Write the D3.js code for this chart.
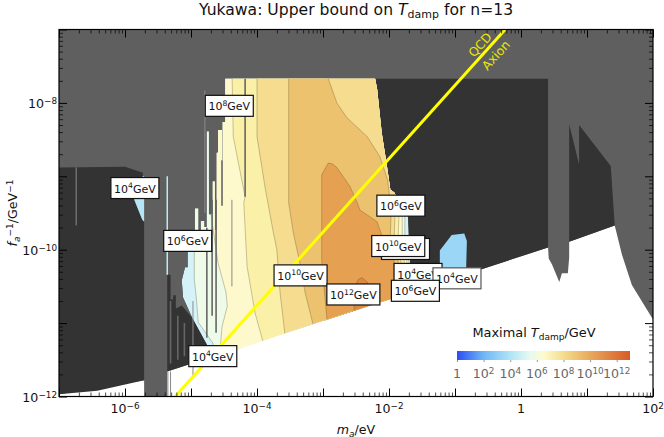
<!DOCTYPE html>
<html>
<head>
<meta charset="utf-8">
<script src="https://cdn.jsdelivr.net/npm/d3@7"></script>
<style>
  html, body { margin: 0; padding: 0; background: #fff; }
  svg { display: block; font-family: "DejaVu Sans", sans-serif; }
</style>
</head>
<body>
<div id="chart"></div>
<script>
// all region outlines are [log10 m_a, log10 1/f_a]
const massDecades = [-7, -6, -5, -4, -3, -2, -1, 0, 1, 2];
const massLabels = [-6, -4, -2, 0, 2];
const couplingDecades = [-12, -11, -10, -9, -8, -7];
const couplingLabels = [-12, -10, -8];
const minorMultiples = [2, 3, 4, 5, 6, 7, 8, 9];

const excludedGray = [[-7,-7],[2,-7],[2,-10.95],[1.68,-10.48],[1.53,-10.07],[1.42,-9.67],[0.73,-9.89],[0.73,-10.11],
  [0.71,-10.32],[0.62,-10.32],[0.58,-10.44],[0.47,-10.2],[0.42,-10.12],[0.41,-9.97],[-5.36,-11.66],[-5.36,-12],[-5.71,-12],[-5.71,-11.78],[-7,-11.97]];
const darkLeft = [[-7,-8.88],[-6,-8.87],[-5.73,-8.95],[-5.73,-9],[-5.86,-9.32],[-5.74,-9.59],[-5.71,-9.62],[-5.71,-11.78],[-6.42,-11.92],[-7,-11.97]];
const blueSliver = [[-5.73,-9],[-5.86,-9.32],[-5.74,-9.59],[-5.71,-9.62],[-5.71,-9]];
const darkTriangle = [[-5.36,-10.34],[-5.31,-10.34],[-5.31,-10.68],[-5.27,-10.68],[-5.27,-10.62],[-5.23,-10.62],[-5.23,-10.8],[-5.14,-10.76],[-4.98,-10.93],[-4.76,-11.29],[-4.68,-11.46],[-5.36,-11.66]];
const darkCenter = [[-3,-7.67],[0.41,-7.67],[0.41,-9.97],[-3,-10.97]];
const darkRight = [[0.73,-8.29],[0.88,-8.84],[0.88,-8.3],[1.36,-8.86],[1.42,-9.67],[0.73,-9.89]];
const bluePatch = [[-1.23,-10.01],[-1.05,-9.8],[-0.86,-9.78],[-0.82,-9.88],[-0.83,-10.22],[-0.83,-10.3],[-1.23,-10.45]];

const allowedRegion = [[-4.68,-11.46],[-4.76,-11.29],[-4.98,-10.93],[-5.12,-10.65],[-5.14,-10.42],[-5.09,-10.24],[-5.05,-10.24],[-5.05,-9.93],
  [-4.94,-9.93],[-4.94,-9.44],[-4.89,-9.44],[-4.89,-9.86],[-4.85,-9.86],[-4.85,-9.61],[-4.8,-9.61],[-4.8,-9.69],[-4.76,-9.69],[-4.76,-8.39],
  [-4.73,-8.39],[-4.73,-9.52],[-4.67,-9.52],[-4.67,-9.07],[-4.64,-9.07],[-4.64,-9.73],[-4.61,-9.73],[-4.61,-8.68],[-4.59,-8.68],[-4.59,-8.37],
  [-4.53,-8.37],[-4.53,-8.78],[-4.52,-8.78],[-4.52,-8.26],[-4.48,-8.26],[-4.48,-7.67],[-2.21,-7.67],[-2.18,-7.81],[-2.11,-8.41],[-2.03,-8.87],
  [-1.98,-9.18],[-1.92,-9.22],[-1.71,-9.55],[-1.7,-9.8],[-1.68,-10.16],[-1.68,-10.59],[-2.14,-10.72],[-2.53,-10.83],[-2.94,-10.95],[-3.15,-11.01],[-4.3,-11.36]];

// filled contour levels, painted lowest first
const levelColors = ["#edfbe8", "#fdf9cd", "#fbf0a8", "#f5dc8e", "#edc26e", "#e5a052", "#dc8a40"];
const levelOutlines = [
  [[-4.95,-7.5],[-4.95,-10.41],[-4.92,-10.65],[-4.89,-10.99],[-4.67,-11.27],[-4.6,-11.7],[-1.7,-11.7],[-1.7,-10.16],[-1.76,-9.8],[-1.76,-9.55],[-1.78,-9.5],[-1.53,-9.2],[-1.53,-7.5]],
  [[-4.7,-7.5],[-4.7,-9.5],[-4.62,-10],[-4.59,-10.18],[-4.47,-10.58],[-4.45,-10.77],[-4.53,-11.05],[-4.55,-11.27],[-4.55,-11.7],[-1.73,-11.7],[-1.73,-10.16],[-1.8,-9.8],[-1.8,-9.55],[-1.83,-9.5],[-1.53,-9],[-1.53,-7.5]],
  [[-4.38,-7.5],[-4.36,-8.46],[-4.18,-9.28],[-4.2,-9.36],[-4.15,-10.23],[-4.03,-10.86],[-3.91,-11.25],[-3.88,-11.7],[-1.77,-11.7],[-1.77,-10.16],[-1.86,-9.8],[-1.85,-9.55],[-1.86,-9.43],[-1.53,-8.9],[-1.53,-7.5]],
  [[-4,-7.5],[-4,-8.46],[-3.88,-9.14],[-3.76,-9.73],[-3.7,-10],[-3.65,-10.59],[-3.58,-11.13],[-3.55,-11.7],[-1.82,-11.7],[-1.82,-10.16],[-1.92,-9.8],[-1.91,-9.55],[-1.92,-9.37],[-1.53,-8.78],[-1.53,-7.5]],
  [[-3.52,-7.5],[-3.52,-9.36],[-3.45,-9.77],[-3.35,-10.18],[-3.27,-10.59],[-3.15,-11.02],[-3.12,-11.7],[-1.86,-11.7],[-1.86,-10.16],[-1.98,-9.8],[-1.97,-9.55],[-1.98,-9.36],[-2.02,-9.05],[-2.14,-8.73],[-2.33,-8.46],[-2.64,-8.2],[-2.79,-8],[-2.92,-7.67],[-2.97,-7.5]],
  [[-2.92,-8.82],[-3.02,-8.98],[-3.02,-9.73],[-3.02,-10.14],[-2.94,-10.95],[-2.94,-11.7],[-1.92,-11.7],[-1.92,-10.48],[-1.92,-10.16],[-2.02,-9.93],[-2.11,-9.8],[-2.18,-9.62],[-2.29,-9.55],[-2.44,-9.46],[-2.48,-9.36],[-2.59,-9.14],[-2.79,-8.88],[-2.86,-8.83]],
  [[-2.53,-10.54],[-2.47,-10.41],[-2.41,-10.38],[-2.33,-10.44],[-2.27,-10.61],[-2.27,-10.95],[-2.53,-10.95]],
];

// vertical slivers: [log m, log top, log bottom]
const graySlivers = [[-4.18,-7.67,-9.28],[-4.62,-9.32,-11.13],[-4.68,-9.32,-10.9],[-4.76,-9.7,-11.2],[-4.53,-8.78,-9.4],[-5.31,-10.7,-11.55],[-5.2,-10.9,-11.5],[-5.1,-11,-11.45]];
const faintSlivers = [[-6.74,-8.88,-9.67],[-4.38,-9.32,-10.5],[-4.97,-10.7,-11.75],[-5.35,-11.66,-12],[-5.31,-11.66,-12],[-4.79,-7.83,-9.5]];
const cyanSlivers = [[-5.36,-9,-10.34]];

const qcdMass = [-5.24, -0.24];
const qcdOffset = -6.76;

// box labels in draw order: [log m, log coupling, exponent]
const tempLabels = [
  [-4.42,-8.04,8],[-5.85,-9.16,4],[-5.05,-9.88,6],[-3.34,-10.35,10],[-2.54,-10.61,12],[-4.67,-11.45,4],
  [-1.82,-9.4,6],[-1.75,-9.99,null],[-1.86,-9.95,10],[-1.56,-10.33,4],[-0.97,-10.39,4],[-1.6,-10.56,6],
];

const barTicks = [0, 2, 4, 6, 8, 10, 12];
const barStops = [0, 2, 4, 5.5, 6.5, 8, 10, 13];
const barColors = ["#2a4cf5", "#6fb6f5", "#aee5f7", "#e8f9f0", "#fdfbd0", "#f5dd8c", "#e8a95c", "#d85a28"];

const width = 664, height = 437;
const plot = { left: 59, right: 653, top: 29.5, bottom: 396.5 };

const x = d3.scaleLog().domain([1e-7, 1e2]).range([plot.left, plot.right]);
const y = d3.scaleLog().domain([1e-12, 1e-7]).range([plot.bottom, plot.top]);
const px = lm => x(Math.pow(10, lm));
const py = lg => y(Math.pow(10, lg));
const outline = d3.line().x(d => px(d[0])).y(d => py(d[1]));
const closed = pts => outline(pts) + "Z";

const svg = d3.select("#chart").append("svg").attr("width", width).attr("height", height);
const defs = svg.append("defs");
defs.append("clipPath").attr("id", "plot-clip").append("rect")
  .attr("x", plot.left).attr("y", plot.top)
  .attr("width", plot.right - plot.left).attr("height", plot.bottom - plot.top);
defs.append("clipPath").attr("id", "allowed-clip").append("path").attr("d", closed(allowedRegion));

const g = svg.append("g").attr("clip-path", "url(#plot-clip)");

const GRAY = "#5f5f5f", DARK = "#333333";
const fillRegion = (pts, color) => g.append("path").attr("d", closed(pts)).attr("fill", color);

fillRegion(excludedGray, GRAY);
fillRegion(darkLeft, DARK);
fillRegion(blueSliver, "#b4e6f8");
fillRegion(darkTriangle, DARK);
fillRegion(darkCenter, DARK);
fillRegion(darkRight, DARK);
fillRegion(bluePatch, "#9cd6f6");

const allowed = g.append("g").attr("clip-path", "url(#allowed-clip)");
allowed.append("path").attr("d", closed(allowedRegion)).attr("fill", "#d4f2f8");
allowed.selectAll("path.level")
  .data(levelOutlines)
  .join("path")
  .attr("class", "level")
  .attr("d", closed)
  .attr("fill", (d, i) => levelColors[i])
  .attr("stroke", "#5a4a2a")
  .attr("stroke-opacity", 0.45)
  .attr("stroke-width", 0.7);

const drawSlivers = (rows, color, w) => {
  g.selectAll(null).data(rows).join("line")
    .attr("x1", d => px(d[0])).attr("x2", d => px(d[0]))
    .attr("y1", d => py(d[1])).attr("y2", d => py(d[2]))
    .attr("stroke", color).attr("stroke-width", w);
};
drawSlivers(graySlivers, "#666666", 1.6);
drawSlivers(faintSlivers, "#8a8a8a", 1);
drawSlivers(cyanSlivers, "#bfeaf5", 1.5);

// QCD axion band
g.append("line")
  .attr("x1", px(qcdMass[0])).attr("y1", py(qcdMass[0] + qcdOffset))
  .attr("x2", px(qcdMass[1])).attr("y2", py(qcdMass[1] + qcdOffset))
  .attr("stroke", "#ffff00").attr("stroke-width", 3);

const qcdAngle = -Math.atan2(py(-8) - py(-7), px(1) - px(0)) * 180 / Math.PI;
[["QCD", -0.62, -7.21], ["Axion", -0.38, -7.35]].forEach(([label, lm, lg]) => {
  svg.append("text")
    .attr("transform", `translate(${px(lm)},${py(lg)}) rotate(${qcdAngle})`)
    .attr("text-anchor", "middle").attr("dy", "0.35em")
    .attr("font-size", 12.3).attr("fill", "#e8e800")
    .text(label);
});

// Contour labels
const labels = svg.append("g");
tempLabels.forEach((d, i) => {
  const exp = d[2];
  const w = exp >= 10 ? 53 : 48;
  labels.append("rect")
    .attr("x", px(d[0]) - w / 2).attr("y", py(d[1]) - 10.5)
    .attr("width", w).attr("height", 21)
    .attr("fill", "#fff").attr("stroke", i === 10 ? "#555" : "#111").attr("stroke-width", 1.2);
  if (exp === null) return;   // sits behind its neighbour, text is covered
  const t = labels.append("text")
    .attr("x", px(d[0])).attr("y", py(d[1]) + 4.6)
    .attr("text-anchor", "middle").attr("font-size", 11).attr("fill", "#111");
  t.append("tspan").text("10");
  t.append("tspan").attr("dy", -4.5).attr("font-size", 7.7).text(exp);
  t.append("tspan").attr("dy", 4.5).text("GeV");
});

// Axes: ticks point inwards on all four sides
const minorOf = decades => decades.slice(0, -1).flatMap(e => minorMultiples.map(m => m * Math.pow(10, e)));
const massMajor = massDecades.map(e => Math.pow(10, e));
const couplingMajor = couplingDecades.map(e => Math.pow(10, e));

function powerLabel(sel, exponent) {
  sel.text(null);
  if (exponent === 0) { sel.text("1"); return; }
  sel.append("tspan").text("10");
  sel.append("tspan").attr("dy", "-0.42em").attr("font-size", "70%").text((exponent < 0 ? "\u2212" : "") + Math.abs(exponent));
}

function drawAxis(gen, tx, ty, values, size) {
  const a = svg.append("g").attr("transform", `translate(${tx},${ty})`)
    .call(gen.tickValues(values).tickSize(-size).tickFormat(""));
  a.select(".domain").remove();
  a.selectAll("line").attr("stroke", "#000").attr("stroke-width", size > 5 ? 1 : 0.7);
  return a;
}

const frameW = plot.right - plot.left, frameH = plot.bottom - plot.top;
[[d3.axisBottom(x), 0, plot.bottom, massMajor, minorOf(massDecades)],
 [d3.axisTop(x), 0, plot.top, massMajor, minorOf(massDecades)],
 [d3.axisLeft(y), plot.left, 0, couplingMajor, minorOf(couplingDecades)],
 [d3.axisRight(y), plot.right, 0, couplingMajor, minorOf(couplingDecades)]
].forEach(([gen, tx, ty, major, minor]) => {
  drawAxis(gen, tx, ty, major, 8);
  drawAxis(gen, tx, ty, minor, 4);
});

const xText = svg.append("g").attr("font-size", 12.6).attr("fill", "#111");
massLabels.forEach(e => {
  xText.append("text").attr("x", px(e)).attr("y", 413).attr("text-anchor", "middle").call(powerLabel, e);
});
couplingLabels.forEach(e => {
  xText.append("text").attr("x", 57).attr("y", py(e) + 5).attr("text-anchor", "end").call(powerLabel, e);
});

svg.append("rect").attr("x", plot.left).attr("y", plot.top)
  .attr("width", frameW).attr("height", frameH)
  .attr("fill", "none").attr("stroke", "#000").attr("stroke-width", 1.2);

// Titles
const title = svg.append("text").attr("x", 356).attr("y", 15).attr("text-anchor", "middle")
  .attr("font-size", 15.6).attr("fill", "#111");
title.append("tspan").text("Yukawa: Upper bound on ");
title.append("tspan").attr("font-style", "italic").text("T");
title.append("tspan").attr("dy", 3).attr("font-size", 11).text("damp");
title.append("tspan").attr("dy", -3).text(" for n=13");

const xTitle = svg.append("text").attr("x", 356).attr("y", 434).attr("text-anchor", "middle")
  .attr("font-size", 12.6).attr("fill", "#111");
xTitle.append("tspan").attr("font-style", "italic").text("m");
xTitle.append("tspan").attr("font-style", "italic").attr("dy", 2.5).attr("font-size", 9).text("a");
xTitle.append("tspan").attr("dy", -2.5).text("/eV");

const yTitle = svg.append("text").attr("transform", "translate(17,213) rotate(-90)")
  .attr("text-anchor", "middle").attr("font-size", 12.6).attr("fill", "#111");
yTitle.append("tspan").attr("font-style", "italic").text("f");
yTitle.append("tspan").attr("font-style", "italic").attr("dy", 2.5).attr("font-size", 9).text("a");
yTitle.append("tspan").attr("dy", -7).attr("font-size", 9).text("\u22121");
yTitle.append("tspan").attr("dy", 4.5).text("/GeV");
yTitle.append("tspan").attr("dy", -4.5).attr("font-size", 9).text("\u22121");

// Colorbar
const bar = { left: 457, right: 630, top: 351, bottom: 360 };
const barScale = d3.scaleLinear().domain([0, 13]).range([bar.left, bar.right]);
const grad = defs.append("linearGradient").attr("id", "tdamp-grad");
grad.selectAll("stop").data(barStops).join("stop")
  .attr("offset", d => d / 13)
  .attr("stop-color", (d, i) => barColors[i]);
svg.append("rect").attr("x", bar.left).attr("y", bar.top)
  .attr("width", bar.right - bar.left).attr("height", bar.bottom - bar.top)
  .attr("fill", "url(#tdamp-grad)");

const barAxis = svg.append("g").attr("transform", `translate(0,${bar.bottom})`)
  .call(d3.axisBottom(barScale).tickValues(barTicks).tickSize(2).tickFormat(""));
barAxis.select(".domain").remove();
barAxis.selectAll("line").attr("stroke", "#999");
barTicks.forEach(v => {
  svg.append("text").attr("x", barScale(v)).attr("y", 378).attr("text-anchor", "middle")
    .attr("font-size", 12.6).attr("fill", "#666").call(powerLabel, v);
});

const barTitle = svg.append("text").attr("x", 534).attr("y", 337).attr("text-anchor", "middle")
  .attr("font-size", 12.9).attr("fill", "#111");
barTitle.append("tspan").text("Maximal ");
barTitle.append("tspan").attr("font-style", "italic").text("T");
barTitle.append("tspan").attr("dy", 2.5).attr("font-size", 9).text("damp");
barTitle.append("tspan").attr("dy", -2.5).text("/GeV");
</script>
</body>
</html>
